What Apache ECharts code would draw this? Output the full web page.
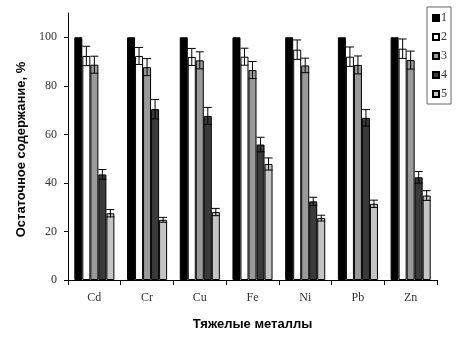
<!DOCTYPE html>
<html><head><meta charset="utf-8">
<script src="https://cdn.jsdelivr.net/npm/echarts@6/dist/echarts.min.js"></script>
<style>html,body{margin:0;padding:0;background:#fff}#c{width:459px;height:340px}</style>
</head><body><div id="c"></div>
<script>
const categories = ['Cd', 'Cr', 'Cu', 'Fe', 'Ni', 'Pb', 'Zn'];
const seriesNames = ['1', '2', '3', '4', '5'];
const s1 = [100, 100, 100, 100, 100, 100, 100];
const s2 = [92.3, 92.3, 91.9, 92.0, 94.9, 92.0, 95.3];
const s3 = [88.7, 87.7, 90.5, 86.5, 88.4, 88.6, 90.6];
const s4 = [43.5, 70.4, 67.6, 55.8, 32.4, 66.8, 42.3];
const s5 = [27.5, 24.8, 28.0, 47.8, 25.5, 31.4, 34.8];
const e1 = [0, 0, 0, 0, 0, 0, 0];
const e2 = [4.0, 3.5, 3.5, 3.5, 4.0, 4.0, 4.0];
const e3 = [3.5, 3.5, 3.5, 3.5, 3.0, 3.7, 3.7];
const e4 = [2.0, 4.0, 3.5, 3.0, 1.7, 3.4, 2.4];
const e5 = [1.5, 1.0, 1.5, 2.5, 1.2, 1.5, 2.0];
const yTicks = [0, 20, 40, 60, 80, 100];

const values = [s1, s2, s3, s4, s5];
const errors = [e1, e2, e3, e4, e5];
const colors = ['#000000', '#ffffff', '#9a9a9a', '#3a3a3a', '#c4c4c4'];
const gapFrac = 0.24;
const serif = 'Liberation Serif';

const series = [];
values.forEach((vals, i) => {
  series.push({
    name: seriesNames[i], type: 'bar', data: vals,
    barCategoryGap: (gapFrac * 100) + '%', barGap: '0%',
    itemStyle: { color: colors[i], borderColor: '#000', borderWidth: 1 },
    emphasis: { disabled: true }, animation: false
  });
});
values.forEach((vals, i) => {
  series.push({
    type: 'custom', z: 5, animation: false, silent: true,
    data: vals.map((v, k) => [k, v, errors[i][k]]),
    renderItem: function (params, api) {
      const k = api.value(0), v = api.value(1), e = api.value(2);
      if (!e) return;
      const band = api.size([1, 0])[0];
      const bw = band * (1 - gapFrac) / 5;
      const c = api.coord([k, v]);
      const x = c[0] + (i - 2) * bw;
      const top = api.coord([k, v + e])[1];
      const bot = api.coord([k, v - e])[1];
      const hw = bw / 2;
      const st = { stroke: '#000', lineWidth: 1 };
      return { type: 'group', children: [
        { type: 'line', shape: { x1: x, y1: top, x2: x, y2: bot }, style: st },
        { type: 'line', shape: { x1: x - hw, y1: top, x2: x + hw, y2: top }, style: st },
        { type: 'line', shape: { x1: x - hw, y1: bot, x2: x + hw, y2: bot }, style: st }
      ]};
    }
  });
});

const chart = echarts.init(document.getElementById('c'), null, { renderer: 'canvas' });
chart.setOption({
  animation: false,
  backgroundColor: '#fff',
  grid: { left: 68, right: 22, top: 13, bottom: 60 },
  legend: {
    data: seriesNames, orient: 'vertical', left: 427, top: 7,
    itemWidth: 6, itemHeight: 6, itemGap: 7, icon: 'rect',
    padding: [5, 4, 4, 5],
    borderColor: '#666', borderWidth: 1,
    textStyle: { fontFamily: serif, fontSize: 12, color: '#333', padding: [0, 0, 0, -3] },
    selectedMode: false
  },
  xAxis: {
    type: 'category', data: categories,
    axisLine: { lineStyle: { color: '#000' } },
    axisTick: { show: true, length: 5, lineStyle: { color: '#000' } },
    axisLabel: { fontFamily: serif, fontSize: 12, color: '#333', margin: 12 },
    name: 'Тяжелые металлы', nameLocation: 'middle', nameGap: 38,
    nameTextStyle: { fontFamily: 'Liberation Sans', fontWeight: 'bold', fontSize: 13, color: '#000', padding: [0, 0, 0, 0] }
  },
  yAxis: {
    type: 'value', min: 0, max: 110, interval: 20,
    splitLine: { show: false },
    axisLine: { show: true, lineStyle: { color: '#000' } },
    axisTick: { show: true, length: 4, lineStyle: { color: '#000' } },
    axisLabel: {
      fontFamily: serif, fontSize: 12, color: '#333', margin: 11, showMaxLabel: false,
      formatter: v => (yTicks.indexOf(v) >= 0 ? String(v) : '')
    },
    name: 'Остаточное содержание, %', nameLocation: 'middle', nameGap: 33,
    nameTextStyle: { fontFamily: 'Liberation Sans', fontWeight: 'bold', fontSize: 13, color: '#000', padding: [0, 6, 0, 0] }
  },
  series: series
});
</script>
</body></html>
